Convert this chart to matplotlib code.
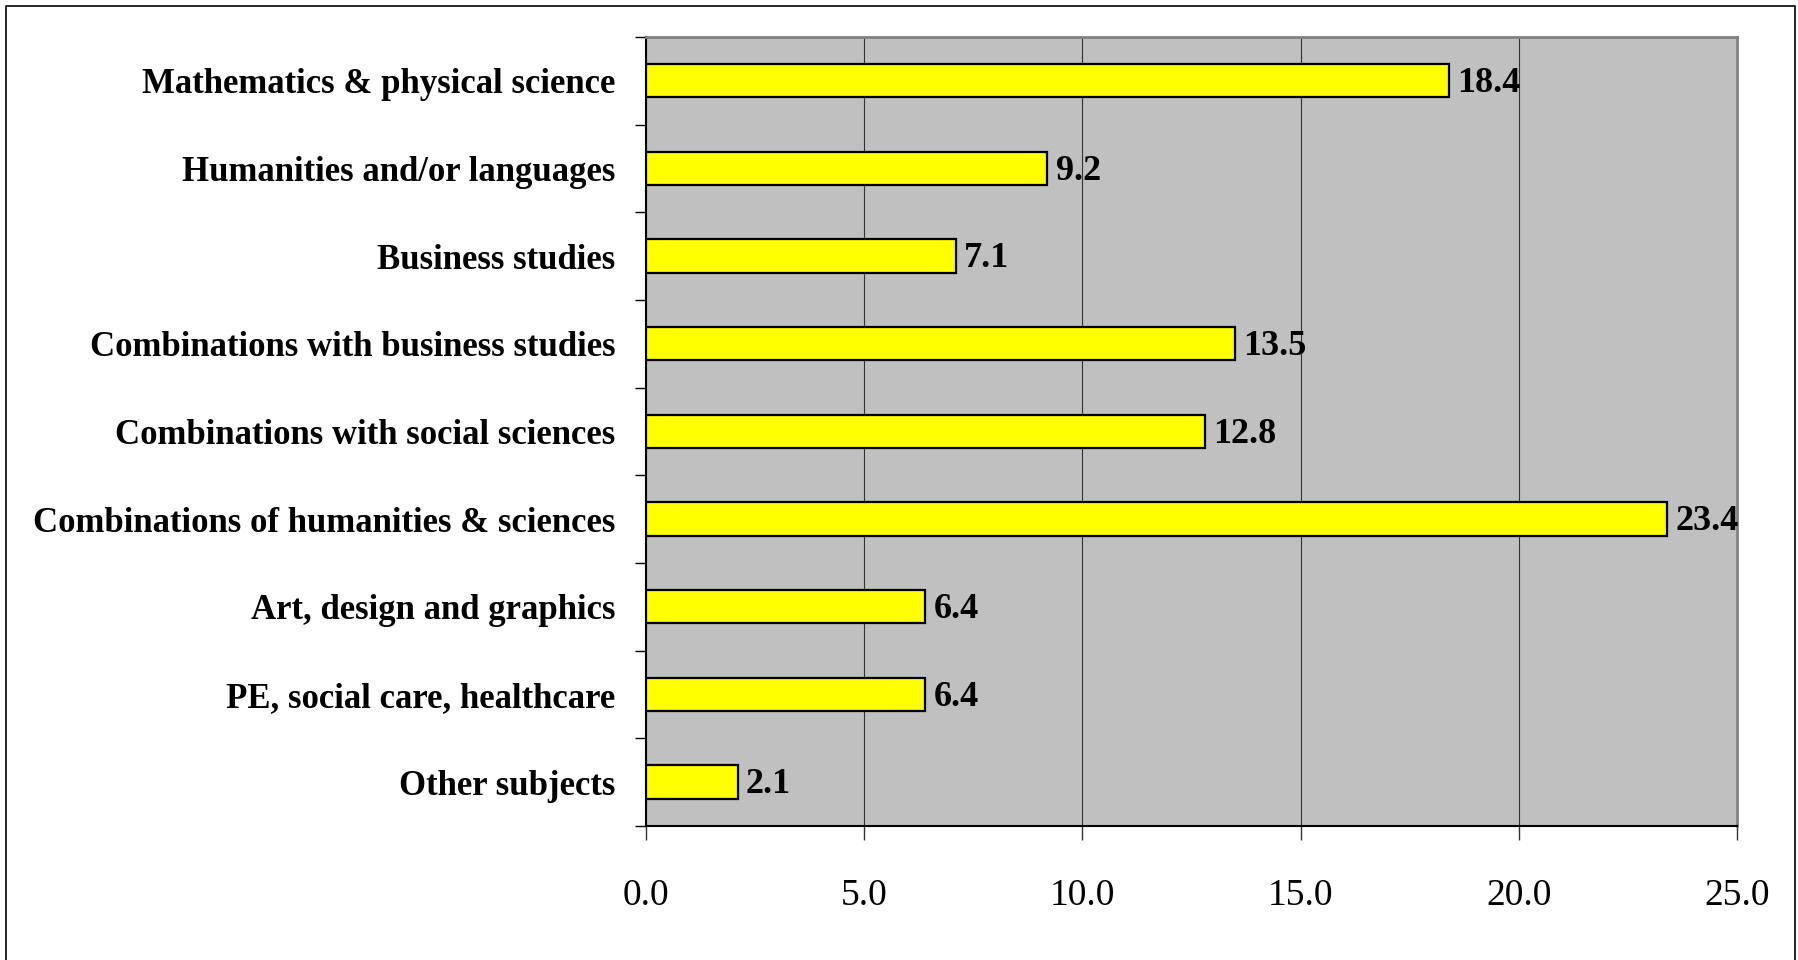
import matplotlib
matplotlib.use("Agg")
import matplotlib.pyplot as plt
from matplotlib.lines import Line2D
from matplotlib.ticker import FixedLocator

categories = [
    "Mathematics & physical science",
    "Humanities and/or languages",
    "Business studies",
    "Combinations with business studies",
    "Combinations with social sciences",
    "Combinations of humanities & sciences",
    "Art, design and graphics",
    "PE, social care, healthcare",
    "Other subjects",
]
values = [18.4, 9.2, 7.1, 13.5, 12.8, 23.4, 6.4, 6.4, 2.1]
x_ticks = [0, 5, 10, 15, 20, 25]

plt.rcParams['font.family'] = ['Liberation Serif', 'DejaVu Serif']

fig = plt.figure(figsize=(17.99, 9.6), dpi=100)
ax = fig.add_axes([0.3591, 0.1396, 0.6064, 0.8219])
ax.set_facecolor('#C0C0C0')

pos = list(range(len(categories)))
ax.barh(pos, values, height=0.38, color='#FFFF00', edgecolor='black',
        linewidth=1.6, zorder=3)

ax.set_xlim(0, 25)
ax.set_ylim(len(categories) - 0.5, -0.5)

ax.set_xticks(x_ticks)
ax.set_xticklabels([f"{t:.1f}" for t in x_ticks], fontsize=27)
ax.set_yticks(pos)
ax.set_yticklabels(categories, fontsize=25, fontweight='bold')

ax.tick_params(axis='y', which='major', length=0, pad=22)
ax.yaxis.set_minor_locator(FixedLocator([i - 0.5 for i in range(len(categories) + 1)]))
ax.tick_params(axis='y', which='minor', length=8, width=1, color='black')
ax.tick_params(axis='x', which='major', length=10, width=1, color='#333333', pad=28)

ax.grid(axis='x', color='#333333', linewidth=0.8, zorder=1)
ax.set_axisbelow(True)

for side in ('top', 'right'):
    ax.spines[side].set_color('#808080')
    ax.spines[side].set_linewidth(2)
for side in ('left', 'bottom'):
    ax.spines[side].set_color('black')
    ax.spines[side].set_linewidth(1.5)

for v, p in zip(values, pos):
    ax.annotate(f"{v:.1f}", xy=(v, p), xytext=(6, -2), textcoords='offset points',
                ha='left', va='center', fontsize=26, fontweight='bold',
                annotation_clip=False, zorder=4)

# outer frame around the chart
x0, x1 = 6 / 1799, 1795 / 1799
y1 = 1 - 6 / 960
fig.add_artist(Line2D([x0, x0, x1, x1], [-0.02, y1, y1, -0.02],
                      transform=fig.transFigure, color='black', linewidth=1.2))

fig.savefig("out.png", dpi=100, facecolor='white')
